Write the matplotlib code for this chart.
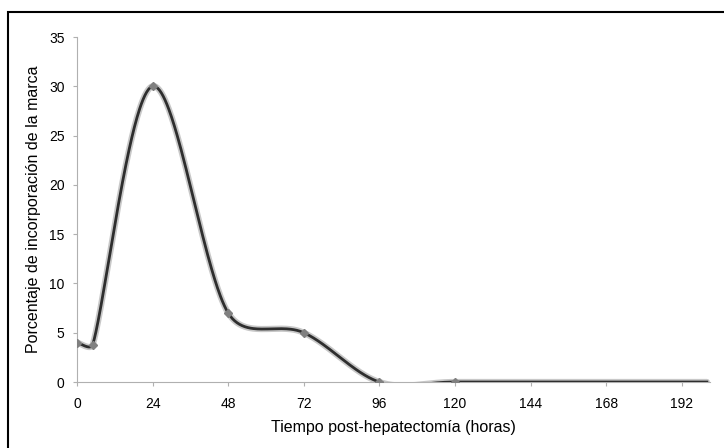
import numpy as np
import matplotlib.pyplot as plt
from matplotlib.patches import Rectangle

plt.rcParams['font.family'] = ['Liberation Sans', 'DejaVu Sans']

horas = [0, 5, 24, 48, 72, 96, 120, 200]
marca = [4.0, 3.8, 30.0, 7.0, 5.0, 0.0, 0.0, 0.0]
xticks = [0, 24, 48, 72, 96, 120, 144, 168, 192]
yticks = [0, 5, 10, 15, 20, 25, 30, 35]


def excel_smooth(x, y, sx=3.16, sy=9.86, n=80, lim=0.42):
    # smoothed line like a spreadsheet, handles limited on short segments
    p = np.column_stack([np.array(x) * sx, np.array(y) * sy]).astype(float)
    npt = len(p)
    out = []
    for i in range(npt - 1):
        p1, p2 = p[i], p[i + 1]
        seg = np.linalg.norm(p2 - p1)
        # outgoing handle at p1
        p0 = p[i - 1] if i > 0 else p1
        d1 = (p2 - p0) / 6
        if np.linalg.norm(d1) > seg * lim:
            d1 = d1 / np.linalg.norm(d1) * seg * lim
        # incoming handle at p2
        p3 = p[i + 2] if i + 2 < npt else p2
        d2 = (p3 - p1) / 6
        if np.linalg.norm(d2) > seg * lim:
            d2 = d2 / np.linalg.norm(d2) * seg * lim
        c1 = p1 + d1
        c2 = p2 - d2
        t = np.linspace(0, 1, n)[:, None]
        out.append((1 - t) ** 3 * p1 + 3 * (1 - t) ** 2 * t * c1
                   + 3 * (1 - t) * t ** 2 * c2 + t ** 3 * p2)
    s = np.vstack(out)
    return s[:, 0] / sx, s[:, 1] / sy


fig = plt.figure(figsize=(7.24, 4.48), dpi=100)
ax = fig.add_axes([0.1064, 0.1473, 0.8743, 0.7701])

cx, cy = excel_smooth(horas, marca)
ax.plot(cx, cy, color='#c8c8c8', lw=4.5, solid_capstyle='round', zorder=2)
ax.plot(cx, cy, color='#2e2e2e', lw=2.0, zorder=3)
ax.plot(horas[:-1], marca[:-1], 'D', color='#808080', ms=4, zorder=4)

ax.set_xlim(0, 201)
ax.set_ylim(0, 35)
ax.set_xticks(xticks)
ax.set_yticks(yticks)
ax.tick_params(axis='both', labelsize=10, color='#b0b0b0', length=3, direction='out')
ax.tick_params(axis='x', pad=8)
ax.tick_params(axis='y', pad=6)
for s in ['top', 'right']:
    ax.spines[s].set_visible(False)
for s in ['left', 'bottom']:
    ax.spines[s].set_color('#b0b0b0')
ax.set_xlabel('Tiempo post-hepatectomía (horas)', fontsize=11.5, labelpad=6)
ax.set_ylabel('Porcentaje de incorporación de la marca', fontsize=11.5, labelpad=6)

fig.patches.append(Rectangle((8 / 724, -0.1), 1.2, 1 - 12.5 / 448 + 0.1,
                             transform=fig.transFigure, fill=False,
                             edgecolor='black', lw=1.5))

fig.savefig('out.png', dpi=100)
